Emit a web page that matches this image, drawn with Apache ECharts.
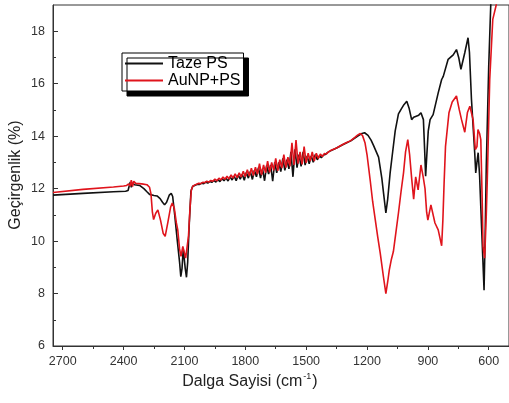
<!DOCTYPE html>
<html><head><meta charset="utf-8">
<script src="https://cdn.jsdelivr.net/npm/echarts@6/dist/echarts.min.js"></script>
<style>html,body{margin:0;padding:0;background:#fff}#c{width:509px;height:403px}</style>
</head><body><div id="c"></div>
<script>
const xMajorTicks = [600, 900, 1200, 1500, 1800, 2100, 2400, 2700];
const xMinorTicks = [750, 1050, 1350, 1650, 1950, 2250, 2550];
const yMajorTicks = [6, 8, 10, 12, 14, 16, 18];
const yMinorTicks = [7, 9, 11, 13, 15, 17];
const seriesNames = ['Taze PS', 'AuNP+PS'];
const xTitle = 'Dalga Sayisi (cm';
const yTitle = 'Geçirgenlik (%)';

const tazePS = [
[2748,11.75],[2600,11.82],[2450,11.88],[2390,11.9],[2378,11.93],[2372,11.9],[2367,12.25],[2362,12.05],[2357,12.2],[2345,12.15],[2321,12.12],[2300,12.0],[2285,11.88],[2272,11.78],[2250,11.74],[2235,11.72],[2220,11.62],[2208,11.48],[2198,11.38],[2188,11.48],[2175,11.75],[2165,11.82],[2158,11.7],[2148,11.0],[2135,10.0],[2124,9.2],[2118,8.64],[2112,8.95],[2106,9.7],[2101,9.65],[2096,8.95],[2090,8.62],[2084,9.2],[2076,10.7],[2068,11.9],[2060,12.08],[2052,12.12],
[2045,12.14],[2035,12.17],[2025,12.16],[2015,12.21],[2005,12.19],[1995,12.25],[1985,12.21],[1975,12.27],[1965,12.24],[1955,12.31],[1945,12.25],[1935,12.34],[1925,12.27],[1915,12.38],[1905,12.30],[1895,12.40],[1885,12.29],[1875,12.45],[1865,12.33],[1855,12.48],[1845,12.30],[1835,12.52],[1825,12.36],[1815,12.55],[1805,12.32],[1795,12.62],[1785,12.40],[1775,12.65],[1765,12.35],[1755,12.70],[1745,12.45],[1735,12.80],[1725,12.40],[1715,12.75],[1705,12.30],[1695,12.88],[1685,12.55],[1675,12.90],[1665,12.28],[1655,13.00],[1645,12.60],[1635,13.00],[1625,12.65],[1615,13.15],[1605,12.70],[1595,13.10],[1585,12.75],[1575,13.40],[1565,12.45],[1555,13.50],[1545,12.80],[1535,13.30],[1525,12.85],[1515,13.40],[1505,12.90],[1495,13.25],[1485,12.95],[1475,13.25],[1465,13.00],[1455,13.30],[1445,13.10],[1435,13.25],[1425,13.18],[1415,13.28],[1405,13.30],[1395,13.37],[1385,13.42],
[1350,13.55],[1320,13.67],[1300,13.75],[1280,13.82],[1260,13.93],[1240,14.03],[1225,14.1],[1212,14.13],[1195,14.03],[1180,13.85],[1168,13.65],[1143,13.2],[1127,12.4],[1118,11.8],[1107,11.07],[1098,11.6],[1086,12.6],[1072,13.5],[1061,14.2],[1045,14.85],[1030,15.05],[1018,15.2],[1004,15.33],[992,15.05],[980,14.63],[970,14.72],[963,14.76],[945,14.8],[934,14.89],[922,14.63],[916,13.5],[911,12.47],[905,13.3],[898,14.2],[889,14.63],[874,14.82],[865,14.89],[849,15.65],[832,16.16],[824,16.28],[800,16.93],[791,17.0],[775,17.1],[759,17.3],[748,17.0],[737,16.55],[718,17.18],[702,17.75],[695,17.2],[685,15.4],[669,13.37],[664,12.6],[658,13.0],[652,13.37],[645,12.5],[635,10.5],[623,8.13],[618,10.0],[612,12.85],[600,16.66],[590,19.0],[580,20.5]
];

const auNPPS = [
[2748,11.85],[2600,11.97],[2450,12.06],[2400,12.1],[2385,12.12],[2375,12.18],[2368,12.1],[2362,12.32],[2356,12.08],[2350,12.28],[2340,12.2],[2310,12.18],[2285,12.15],[2272,12.05],[2265,11.8],[2258,11.1],[2252,10.82],[2242,11.05],[2231,11.19],[2218,10.8],[2205,10.3],[2195,10.18],[2182,10.7],[2168,11.3],[2160,11.45],[2150,11.25],[2140,10.7],[2133,10.43],[2124,9.7],[2117,9.42],[2108,9.8],[2102,9.75],[2094,9.35],[2087,9.28],[2080,10.2],[2073,11.2],[2066,11.95],[2058,12.1],[2050,12.15],
[2040,12.17],[2030,12.20],[2020,12.19],[2010,12.24],[2000,12.23],[1990,12.28],[1980,12.25],[1970,12.31],[1960,12.28],[1950,12.36],[1940,12.30],[1930,12.40],[1920,12.33],[1910,12.44],[1900,12.36],[1890,12.47],[1880,12.37],[1870,12.52],[1860,12.40],[1850,12.56],[1840,12.42],[1830,12.60],[1820,12.44],[1810,12.66],[1800,12.45],[1790,12.72],[1780,12.48],[1770,12.78],[1760,12.50],[1750,12.82],[1740,12.55],[1730,12.95],[1720,12.52],[1710,12.90],[1700,12.60],[1690,13.05],[1680,12.62],[1670,13.00],[1660,12.70],[1650,13.15],[1640,12.68],[1630,13.10],[1620,12.78],[1610,13.30],[1600,12.80],[1590,13.20],[1580,12.85],[1570,13.75],[1560,12.90],[1550,13.85],[1540,12.95],[1530,13.40],[1520,12.92],[1510,13.60],[1500,12.98],[1490,13.35],[1480,13.05],[1470,13.40],[1460,13.05],[1450,13.35],[1440,13.15],[1430,13.32],[1420,13.22],[1410,13.34],[1400,13.32],[1390,13.40],[1380,13.45],
[1350,13.55],[1320,13.68],[1300,13.76],[1280,13.83],[1260,13.95],[1245,14.05],[1233,14.1],[1222,14.02],[1210,13.75],[1200,13.3],[1192,12.8],[1184,12.3],[1172,11.5],[1159,10.8],[1147,10.15],[1135,9.55],[1119,8.64],[1107,8.0],[1098,8.45],[1090,8.9],[1080,9.3],[1070,9.6],[1058,10.3],[1045,11.07],[1032,11.9],[1020,12.6],[1010,13.4],[999,13.87],[990,13.3],[980,12.4],[970,11.6],[960,12.45],[948,11.95],[934,12.9],[923,12.45],[914,12.0],[906,11.1],[900,10.8],[885,11.38],[865,10.69],[849,10.43],[832,9.82],[826,10.8],[820,12.2],[813,13.61],[796,14.89],[780,15.3],[759,15.53],[745,15.0],[734,14.63],[718,14.15],[705,14.9],[693,15.14],[677,14.63],[666,13.49],[658,13.6],[653,14.25],[645,14.1],[639,13.87],[632,11.5],[628,9.79],[620,9.35],[612,11.0],[607,12.34],[595,16.16],[580,18.45],[563,19.0],[550,20.5]
];

const chart = echarts.init(document.getElementById('c'), null, {renderer: 'canvas'});
const FONT = '"Liberation Sans", Arial, sans-serif';
const axisColor = '#333';
const plain = function (v) { return String(v); };
const xBase = {type: 'value', min: 500, max: 2748, inverse: true, position: 'bottom', gridIndex: 0, splitLine: {show: false}};
const yBase = {type: 'value', min: 6, max: 19, position: 'left', gridIndex: 0, splitLine: {show: false}};
chart.setOption({
  animation: false,
  backgroundColor: '#fff',
  grid: {left: 53, right: -2, top: 5, bottom: 57, show: true, borderColor: axisColor, borderWidth: 1, backgroundColor: 'transparent'},
  xAxis: [
    Object.assign({}, xBase, {
      axisLine: {show: true, lineStyle: {color: axisColor, width: 1}},
      axisTick: {show: true, inside: false, length: 4, customValues: xMajorTicks, lineStyle: {color: axisColor}},
      axisLabel: {show: true, customValues: xMajorTicks, formatter: plain, margin: 9, fontSize: 12.5, fontFamily: FONT, color: '#333'}
    }),
    Object.assign({}, xBase, {
      axisLine: {show: false},
      axisTick: {show: true, inside: false, length: 3, customValues: xMinorTicks, lineStyle: {color: axisColor}},
      axisLabel: {show: false}
    })
  ],
  yAxis: [
    Object.assign({}, yBase, {
      axisLine: {show: true, lineStyle: {color: axisColor, width: 1}},
      axisTick: {show: true, inside: true, length: 5, customValues: yMajorTicks, lineStyle: {color: axisColor}},
      axisLabel: {show: true, customValues: yMajorTicks, formatter: plain, margin: 8, fontSize: 12.5, fontFamily: FONT, color: '#333'}
    }),
    Object.assign({}, yBase, {
      axisLine: {show: false},
      axisTick: {show: true, inside: true, length: 3, customValues: yMinorTicks, lineStyle: {color: axisColor}},
      axisLabel: {show: false}
    })
  ],
  legend: {
    data: seriesNames, orient: 'vertical', left: 122, top: 53,
    padding: [2, 3, 2, 3], itemGap: 0, itemWidth: 38, itemHeight: 2, icon: 'rect',
    backgroundColor: '#fff', borderColor: '#000', borderWidth: 1,
    shadowColor: '#000', shadowBlur: 0, shadowOffsetX: 5, shadowOffsetY: 5,
    selectedMode: false,
    textStyle: {fontSize: 16, fontFamily: FONT, color: '#000', lineHeight: 17}
  },
  graphic: [
    {type: 'text', x: 250, y: 381, z: 10, style: {
      text: '{a|' + xTitle + '}{s|-1}{a|)}', align: 'center', verticalAlign: 'middle',
      rich: {
        a: {fontSize: 16, fontFamily: FONT, fill: '#222', lineHeight: 18, verticalAlign: 'bottom'},
        s: {fontSize: 9, fontFamily: FONT, fill: '#222', lineHeight: 18, verticalAlign: 'top', padding: [0, 1, 0, 1]}
      }
    }},
    {type: 'text', x: 16, y: 175, rotation: Math.PI / 2, z: 10, style: {
      text: yTitle, align: 'center', verticalAlign: 'middle', fontSize: 16, fontFamily: FONT, fill: '#222'
    }}
  ],
  series: [
    {name: seriesNames[0], type: 'line', xAxisIndex: 0, yAxisIndex: 0, data: tazePS, showSymbol: false, symbol: 'none', clip: true,
     lineStyle: {color: '#111', width: 1.6}, itemStyle: {color: '#111'}},
    {name: seriesNames[1], type: 'line', xAxisIndex: 0, yAxisIndex: 0, data: auNPPS, showSymbol: false, symbol: 'none', clip: true,
     lineStyle: {color: '#e0141c', width: 1.6}, itemStyle: {color: '#e0141c'}}
  ]
});
</script></body></html>
